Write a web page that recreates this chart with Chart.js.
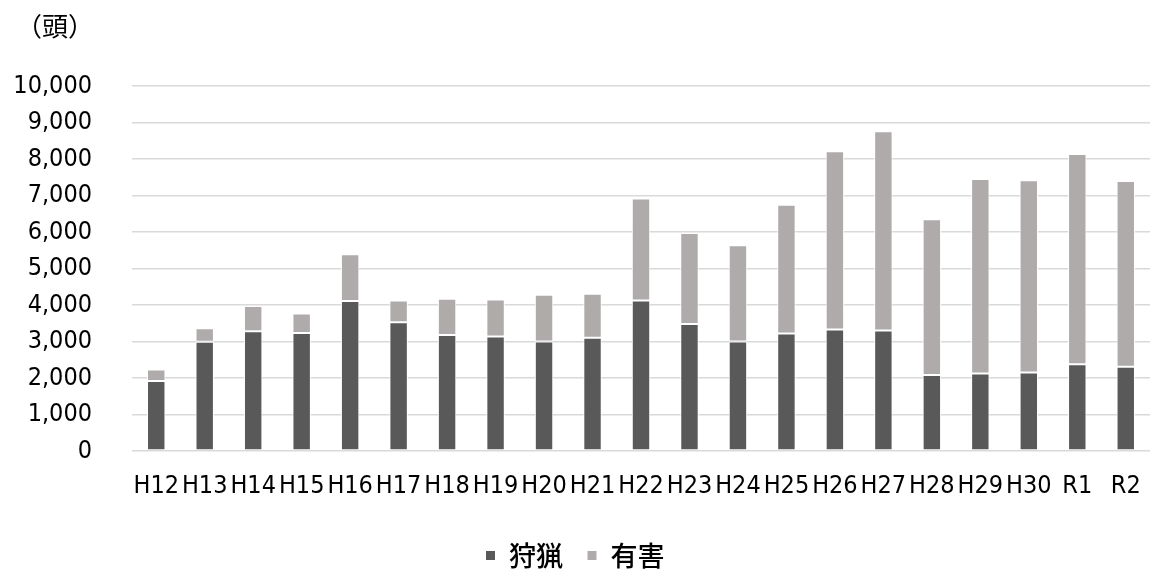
<!DOCTYPE html>
<html><head><meta charset="utf-8">
<script src="https://cdn.jsdelivr.net/npm/chart.js@4/dist/chart.umd.min.js"></script>
<style>
html,body{margin:0;padding:0;background:#fff;}
#wrap{position:relative;width:1155px;height:574px;}
#unit{position:absolute;left:16px;top:8px;font:26px "Noto Sans CJK JP";color:#000;line-height:34px;}
</style></head>
<body>
<div id="wrap"><div id="unit">（頭）</div><canvas id="c" width="1155" height="574"></canvas></div>
<script>
const categories = ["H12","H13","H14","H15","H16","H17","H18","H19","H20","H21","H22","H23","H24","H25","H26","H27","H28","H29","H30","R1","R2"];
const hunting = [1920,2990,3280,3230,4110,3530,3180,3140,3000,3100,4120,3480,3000,3220,3330,3300,2080,2120,2150,2380,2310];
const nuisance = [310,370,690,540,1280,590,990,1010,1280,1210,2800,2490,2640,3530,4880,5460,4270,5330,5270,5760,5090];
const yTicks = [0,1000,2000,3000,4000,5000,6000,7000,8000,9000,10000];

const narrow = '"DejaVu Sans Condensed", "Noto Sans CJK JP", sans-serif';
new Chart(document.getElementById('c'), {
  type: 'bar',
  data: {
    labels: categories,
    datasets: [
      {label: '狩猟', data: hunting, backgroundColor: '#595959', borderColor: '#ffffff', borderWidth: 1, borderSkipped: false, categoryPercentage: 1, barPercentage: 0.38},
      {label: '有害', data: nuisance, backgroundColor: '#AFABAB', borderColor: '#ffffff', borderWidth: 1, borderSkipped: false, categoryPercentage: 1, barPercentage: 0.38}
    ]
  },
  options: {
    responsive: false,
    animation: false,
    devicePixelRatio: 1,
    layout: {padding: {top: 86, right: 5, left: 0, bottom: -5}},
    plugins: {
      legend: {
        position: 'bottom',
        labels: {boxWidth: 10, boxHeight: 10, color: '#000', padding: 24, font: {family: '"Noto Sans CJK JP"', size: 27, weight: '500'}}
      },
      tooltip: {enabled: false}
    },
    scales: {
      x: {
        stacked: true,
        grid: {display: false},
        border: {display: false},
        afterFit: s => { s.height = 67; },
        ticks: {color: '#000', font: {family: narrow, size: 25}, maxRotation: 0, autoSkip: false, padding: 12}
      },
      y: {
        stacked: true,
        min: 0, max: 10000,
        afterBuildTicks: s => { s.ticks = yTicks.map(v => ({value: v})); },
        afterFit: s => { s.width = 132; },
        grid: {color: '#d9d9d9', lineWidth: 1.5, drawTicks: false},
        border: {display: false},
        ticks: {color: '#000', padding: 40, font: {family: narrow, size: 25}, callback: v => v.toLocaleString('en-US')}
      }
    }
  }
});
</script>
</body></html>
